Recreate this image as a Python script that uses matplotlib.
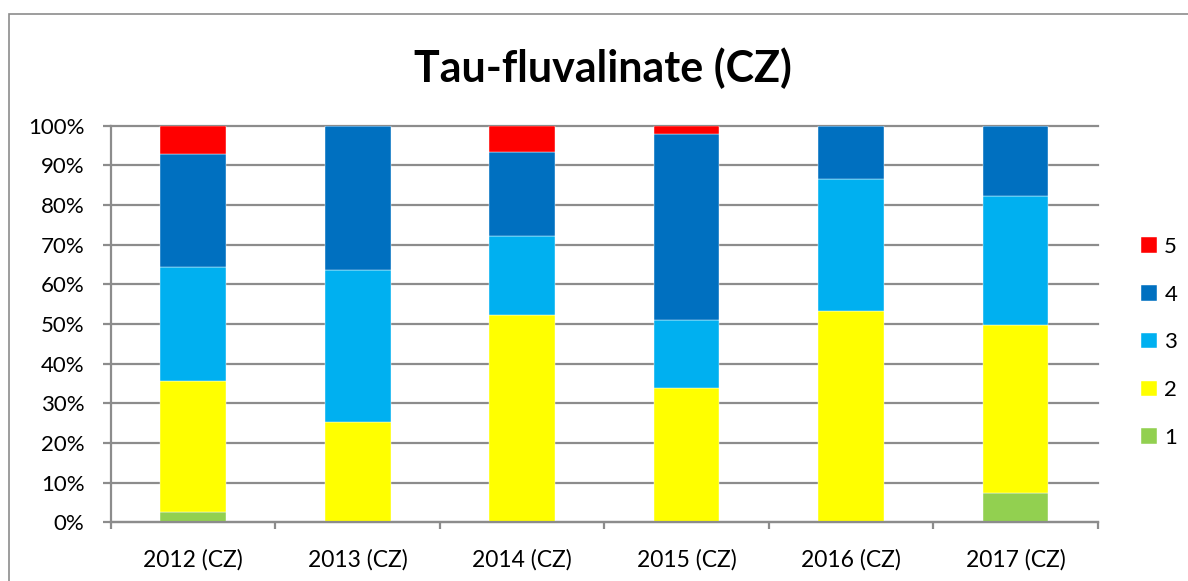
import matplotlib

matplotlib.use("Agg")
import matplotlib.pyplot as plt
from matplotlib.patches import Rectangle
from matplotlib.ticker import FixedLocator, PercentFormatter

plt.rcParams["font.family"] = ["Lato", "DejaVu Sans"]

years = ["2012 (CZ)", "2013 (CZ)", "2014 (CZ)", "2015 (CZ)", "2016 (CZ)", "2017 (CZ)"]
# share of samples per class (percent)
class_1 = [2.6, 0.0, 0.0, 0.0, 0.0, 7.4]
class_2 = [33.0, 25.3, 52.4, 33.9, 53.2, 42.3]
class_3 = [28.7, 38.2, 19.7, 17.0, 33.4, 32.7]
class_4 = [28.6, 36.5, 21.3, 46.9, 13.4, 17.6]
class_5 = [7.1, 0.0, 6.6, 2.2, 0.0, 0.0]

series = [("1", class_1), ("2", class_2), ("3", class_3), ("4", class_4), ("5", class_5)]
colors = {"1": "#92D050", "2": "#FFFF00", "3": "#00B0F0", "4": "#0070C0", "5": "#FF0000"}

grid_color = "#8c8c8c"

fig = plt.figure(figsize=(11.88, 5.81), dpi=100)
ax = fig.add_axes([0.0934, 0.101, 0.8306, 0.6826])

x = list(range(len(years)))
bottom = [0.0] * len(years)
handles = {}
for name, vals in series:
    frac = [v / 100 for v in vals]
    bars = ax.bar(x, frac, width=0.4, bottom=bottom, color=colors[name],
                  edgecolor="white", linewidth=0.3, label=name, zorder=3)
    handles[name] = bars
    bottom = [b + f for b, f in zip(bottom, frac)]

ax.set_xlim(-0.5, len(years) - 0.5)
ax.set_ylim(0, 1)

# horizontal gridlines (incl. the 100% line on top)
for t in [i / 10 for i in range(11)]:
    ax.axhline(t, color=grid_color, linewidth=1.6, zorder=1, clip_on=False)

ax.yaxis.set_major_locator(FixedLocator([i / 10 for i in range(11)]))
ax.yaxis.set_major_formatter(PercentFormatter(1.0, decimals=0))
ax.tick_params(axis="y", length=6, width=1.6, color=grid_color, pad=13, labelsize=16)

ax.set_xticks(x)
ax.set_xticklabels(years)
ax.set_xticks([i - 0.5 for i in range(len(years) + 1)], minor=True)
ax.tick_params(axis="x", which="major", length=0, pad=19, labelsize=16.5)
ax.tick_params(axis="x", which="minor", length=5, width=1.6, color=grid_color)

for side in ["top", "right"]:
    ax.spines[side].set_visible(False)
for side in ["left", "bottom"]:
    ax.spines[side].set_color(grid_color)
    ax.spines[side].set_linewidth(1.6)
    ax.spines[side].set_zorder(4)

fig.text(0.5075, 0.883, "Tau-fluvalinate (CZ)", ha="center", va="center",
         fontsize=31, fontweight="bold")

order = ["5", "4", "3", "2", "1"]
fig.legend([handles[n] for n in order], order, loc="center left",
           bbox_to_anchor=(0.9604, 0.4105), frameon=False, fontsize=16,
           handlelength=0.7, handleheight=0.7, handletextpad=0.35,
           labelspacing=1.25, borderpad=0, borderaxespad=0)

# outer chart border (cut off at the right and bottom edges)
fig.patches.append(Rectangle((8.5 / 1188, -0.05), 1.2, 1 - 14 / 581 + 0.05,
                             transform=fig.transFigure, fill=False,
                             edgecolor="#8c8c8c", linewidth=1.2))

fig.savefig("out.png", dpi=100)
